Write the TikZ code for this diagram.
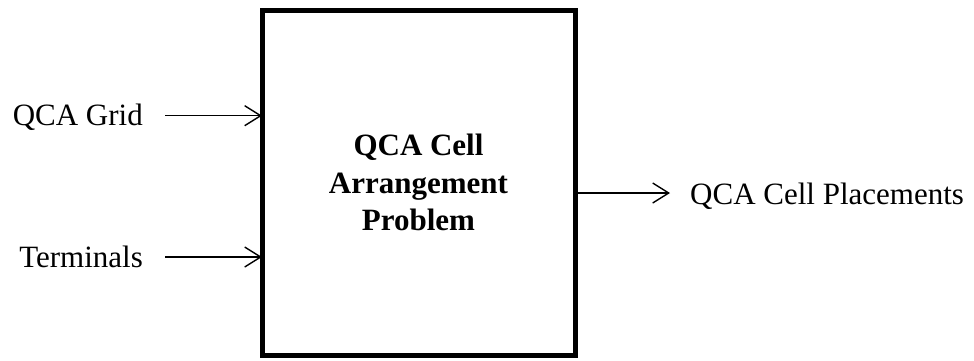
\documentclass[tikz,border=0pt]{standalone}
\usepackage{fontspec}
\setmainfont{Liberation Serif}
\usetikzlibrary{arrows.meta}
\begin{document}
\begin{tikzpicture}[x=1pt,y=-1pt,
  lbl/.style={font=\fontsize{31}{37.5}\selectfont, inner sep=0pt},
  mainbox/.style={draw, line width=5pt, minimum width=313pt, minimum height=344.5pt, inner sep=0pt, outer sep=0pt,
    font=\fontsize{31}{37.5}\selectfont\bfseries, align=center},
  arr/.style={line width=1.4pt, -{Straight Barb[length=16pt,width=20pt,line width=1.4pt]}}]
\useasboundingbox (0,0) rectangle (974,360);
\node[mainbox] (box) at (418.5,182.75) {QCA Cell\\Arrangement\\Problem};
\node[lbl, anchor=base east] (grid) at (143,125) {QCA Grid};
\node[lbl, anchor=base east] (term) at (143,267) {Terminals};
\node[lbl, anchor=base west] (out) at (690,204) {QCA Cell Placements};
\coordinate (ga) at (165,115.7);
\coordinate (ta) at (165,257);
\coordinate (oa) at (670,193);
\draw[arr] (ga) -- (ga -| box.west);
\draw[arr] (ta) -- (ta -| box.west);
\draw[arr] (oa -| box.east) -- (oa);
\end{tikzpicture}
\end{document}
